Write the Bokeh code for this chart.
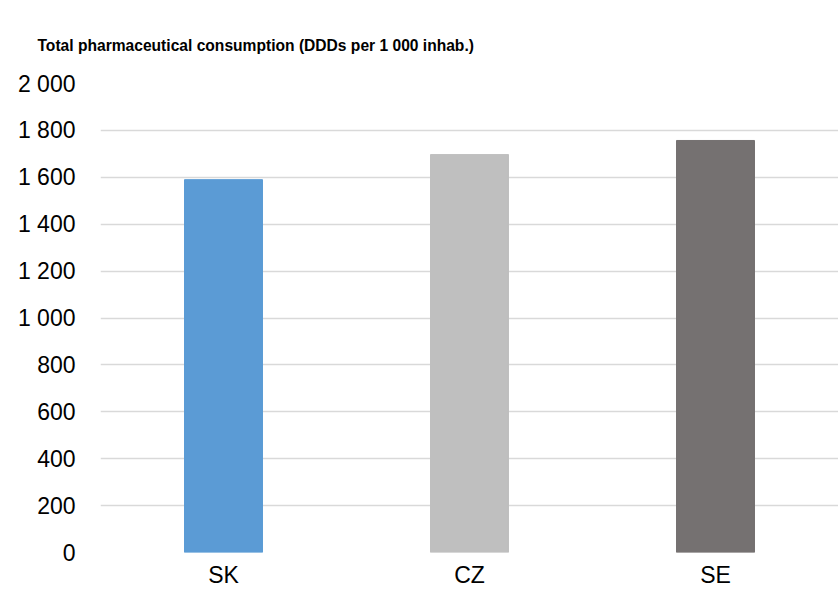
from bokeh.plotting import figure
from bokeh.models import Range1d, FactorRange, ColumnDataSource, FixedTicker, Title
from bokeh.embed import file_html
from bokeh.resources import INLINE

countries = ["SK", "CZ", "SE"]
values = [1590, 1697, 1757]
colors = ["#5B9BD5", "#BFBFBF", "#757171"]
y_ticks = [0, 200, 400, 600, 800, 1000, 1200, 1400, 1600, 1800, 2000]
y_tick_labels = ["0", "200", "400", "600", "800", "1 000", "1 200", "1 400", "1 600", "1 800", "2 000"]
title_text = "Total pharmaceutical consumption (DDDs per 1 000 inhab.)"

FONT = "Liberation Sans"

src = ColumnDataSource(dict(x=countries, top=values, color=colors))

p = figure(width=838, height=590, frame_width=738, frame_height=469,
           output_backend="svg", toolbar_location=None,
           x_range=FactorRange(*countries, range_padding=0), y_range=Range1d(0, 2000),
           min_border_left=100, min_border_right=0, min_border_top=83, min_border_bottom=36)
p.title = Title(text=title_text, text_font=FONT, text_font_size="15.6px",
                text_font_style="bold", text_color="#000000",
                align="left", offset=-63, standoff=59)
p.outline_line_color = None
p.vbar(x="x", top="top", width=0.317, color="color", source=src)

p.xgrid.grid_line_color = None
p.ygrid.grid_line_color = "#D9D9D9"
p.ygrid.grid_line_width = 1.5
p.ygrid.ticker = FixedTicker(ticks=y_ticks)

p.yaxis.ticker = FixedTicker(ticks=y_ticks)
p.yaxis.major_label_overrides = {t: l for t, l in zip(y_ticks, y_tick_labels)}
for ax in (p.xaxis, p.yaxis):
    ax.axis_line_color = None
    ax.major_tick_line_color = None
    ax.minor_tick_line_color = None
    ax.major_tick_out = 0
    ax.major_tick_in = 0
    ax.major_label_text_font = FONT
    ax.major_label_text_font_size = "23px"
    ax.major_label_text_color = "#000000"
p.yaxis.major_label_standoff = 25
p.xaxis.major_label_standoff = 9

open("out.html", "w").write(file_html(p, INLINE))
